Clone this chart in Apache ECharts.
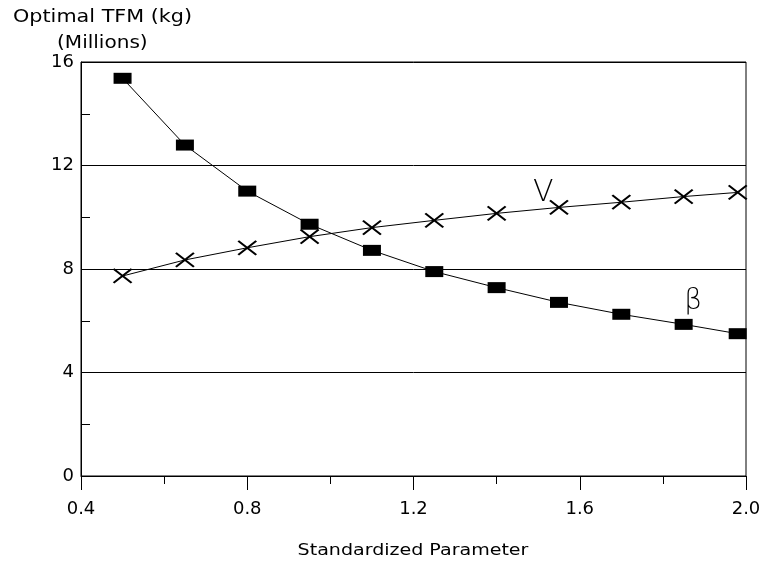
<!DOCTYPE html>
<html>
<head>
<meta charset="utf-8">
<script src="https://cdn.jsdelivr.net/npm/echarts@6/dist/echarts.min.js"></script>
<style>html,body{margin:0;padding:0;background:#fff;}#c{width:775px;height:567px;}</style>
</head>
<body>
<div id="c"></div>
<script>
const xValues = [0.5, 0.65, 0.8, 0.95, 1.1, 1.25, 1.4, 1.55, 1.7, 1.85, 1.98];
const betaValues = [15.37, 12.79, 11.01, 9.73, 8.72, 7.90, 7.28, 6.71, 6.25, 5.86, 5.50];
const vValues = [7.73, 8.35, 8.82, 9.25, 9.60, 9.88, 10.15, 10.38, 10.58, 10.80, 10.96];
const yTitleLines = ['Optimal TFM (kg)', '(Millions)'];
const xTitle = 'Standardized Parameter';
const seriesLabels = { beta: 'β', v: 'V' };
const labelCoords = { v: [1.512, 10.94], beta: [1.873, 6.72] };

const FONT = 'DejaVu Sans';
const chart = echarts.init(document.getElementById('c'), null, { renderer: 'canvas' });

function pairs(xs, ys) { return xs.map((x, i) => [x, ys[i]]); }

const option = {
  animation: false,
  backgroundColor: '#fff',
  textStyle: { fontFamily: FONT, color: '#000' },
  grid: { left: 81, right: 29, top: 62, bottom: 91, show: true, borderColor: '#000', borderWidth: 1, backgroundColor: 'transparent' },
  xAxis: {
    type: 'value', min: 0.4, max: 2.0, interval: 0.4,
    axisLine: { show: true, lineStyle: { color: '#000', width: 1 } },
    axisTick: { show: true, length: 14, inside: false, lineStyle: { color: '#000' } },
    minorTick: { show: true, splitNumber: 2, length: 8, lineStyle: { color: '#000' } },
    splitLine: { show: false },
    axisLabel: { fontFamily: FONT, fontSize: 18, color: '#000', margin: 24, formatter: v => v.toFixed(1) }
  },
  yAxis: {
    type: 'value', min: 0, max: 16, interval: 4,
    axisLine: { show: true, lineStyle: { color: '#000', width: 1 } },
    axisTick: { show: false, inside: true },
    minorTick: { show: true, splitNumber: 2, length: 9, lineStyle: { color: '#000' } },
    splitLine: { show: true, lineStyle: { color: '#000', width: 1 } },
    axisLabel: { fontFamily: FONT, fontSize: 18, color: '#000', margin: 7 }
  },
  graphic: [
    { type: 'text', x: 13, y: 9, scaleX: 1.22, style: { text: yTitleLines[0], font: '17px "' + FONT + '"', fill: '#000', textAlign: 'left', textVerticalAlign: 'top' } },
    { type: 'text', x: 57, y: 35, scaleX: 1.18, style: { text: yTitleLines[1], font: '17px "' + FONT + '"', fill: '#000', textAlign: 'left', textVerticalAlign: 'top' } },
    { type: 'text', x: 413, y: 551, scaleX: 1.19, style: { text: xTitle, font: '16px "' + FONT + '"', fill: '#000', textAlign: 'center', textVerticalAlign: 'middle' } }
  ],
  series: [
    {
      type: 'line', name: seriesLabels.beta, data: pairs(xValues, betaValues),
      symbol: 'rect', symbolSize: [18, 11], showAllSymbol: true,
      lineStyle: { color: '#000', width: 1 },
      itemStyle: { color: '#000', borderColor: '#000', borderWidth: 0 },
      markPoint: {
        symbol: 'rect', symbolSize: 1, itemStyle: { color: 'transparent' },
        label: { show: true, position: 'inside', formatter: seriesLabels.beta, fontFamily: FONT, fontSize: 28, fontWeight: 'lighter', color: '#000' },
        data: [{ coord: labelCoords.beta }]
      }
    },
    {
      type: 'line', name: seriesLabels.v, data: pairs(xValues, vValues),
      symbol: 'path://M0,0L10,8M10,0L0,8', symbolSize: [18, 14], showAllSymbol: true,
      lineStyle: { color: '#000', width: 1 },
      itemStyle: { color: 'transparent', borderColor: '#000', borderWidth: 2 },
      markPoint: {
        symbol: 'rect', symbolSize: 1, itemStyle: { color: 'transparent' },
        label: { show: true, position: 'inside', formatter: seriesLabels.v, fontFamily: FONT, fontSize: 30, fontWeight: 'lighter', color: '#000' },
        data: [{ coord: labelCoords.v }]
      }
    }
  ]
};
chart.setOption(option);
</script>
</body>
</html>
